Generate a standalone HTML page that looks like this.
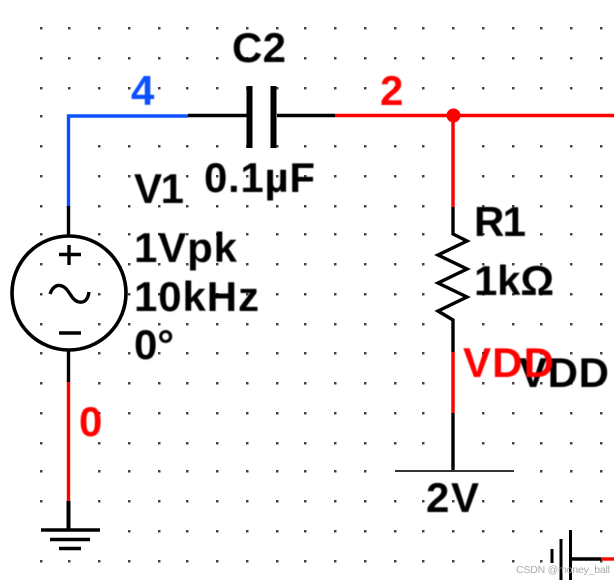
<!DOCTYPE html>
<html>
<head>
<meta charset="utf-8">
<style>
html,body{margin:0;padding:0;background:#fff;width:614px;height:580px;overflow:hidden}
svg{display:block;position:absolute;left:0;top:0}
text{font-family:"Liberation Sans",sans-serif;font-weight:bold;font-size:42px}
#labels{filter:blur(0.5px)}
#wires{filter:blur(0.25px)}
</style>
</head>
<body>
<svg width="614" height="580" viewBox="0 0 614 580" xmlns="http://www.w3.org/2000/svg">
<g id="dots" fill="#444"></g>
<g id="wires" fill="none" stroke-width="3.400">
<path d="M68.500 207V116H188" stroke="#0a50ff"/>
<path d="M188 115.500H247M277 115.500H335" stroke="#000"/>
<path d="M335 115.500H614" stroke="#f00"/>
<path d="M453 116V207" stroke="#f00"/>
<path d="M68.500 206V235M68.500 351V382M453 207V234L467 241L438 255L467 269L438 283L467 297L438 311L453 320V352M453 413V471" stroke="#000"/>
<path d="M68.500 382V501" stroke="#f00"/>
<path d="M453 352V413" stroke="#f00"/>
<path d="M68.500 501V530" stroke="#000" stroke-width="4"/>
<path d="M395 471H514" stroke="#333" stroke-width="2"/>
<circle cx="69" cy="293" r="57" stroke="#000" stroke-width="3.600"/>
<path d="M59 254.500H81M69 245V265M59 333H81" stroke="#000"/>
<path d="M50 294C53 285 59 284 64 287C70 291 72 301 79 302C85 303 88 299 89 292" stroke="#000"/>
<path d="M41 530H100M50 539.500H90M59 548.500H81" stroke="#000" stroke-width="3.500"/>
<path d="M249.500 86V148M273.500 86V148" stroke="#000" stroke-width="6"/>
<path d="M552 549V563M561 539V580M570.500 530V580" stroke="#000" stroke-width="3"/>
<path d="M570 559H601" stroke="#000"/>
<path d="M601 559H614" stroke="#f00"/>
</g>
<circle cx="453.500" cy="115.500" r="7" fill="#f00"/>
<g id="labels">
<text x="232" y="62" textLength="54">C2</text>
<text x="131" y="105" fill="#0a50ff">4</text>
<text x="380" y="105" fill="#f00">2</text>
<text x="204" y="192" textLength="111">0.1µF</text>
<text x="134" y="203" textLength="50">V1</text>
<text x="134" y="262" textLength="103">1Vpk</text>
<text x="134" y="311" textLength="125">10kHz</text>
<text x="134" y="359" textLength="40">0°</text>
<text x="474" y="236" textLength="52">R1</text>
<text x="474" y="295" textLength="80">1kΩ</text>
<text x="519" y="387" textLength="90">VDD</text>
<text x="463" y="377" fill="#f00" textLength="91">VDD</text>
<text x="426" y="512" textLength="53">2V</text>
<text x="79" y="436" fill="#f00">0</text>
</g>
<text x="516" y="573" textLength="94" style="font-size:10.500px;font-weight:normal;fill:#aaa">CSDN @money_ball</text>
</svg>
<script>
var xs=[41,69,99,129,159,187,217,247,277,305,335,365,395,423,453,483,513,541,571,601];
var ys=[28,58,88,116,146,176,206,234,264,294,324,353,383,413,443,471,501,531,561];
var g=document.getElementById('dots'),h='';
ys.forEach(function(y){xs.forEach(function(x){
if(y==116&&x>41)return;
if(x==69&&y>116&&y<531)return;
if(x==453&&y>116&&y<471)return;
if(y==471&&x>=395&&x<=513)return;
if(y==531&&x<=99)return;
if(x==571&&y>=531)return;
h+='<rect x="'+(x-1)+'" y="'+(y-1)+'" width="2.500" height="2.500"/>';
});});
g.innerHTML=h;
</script>
</body>
</html>
